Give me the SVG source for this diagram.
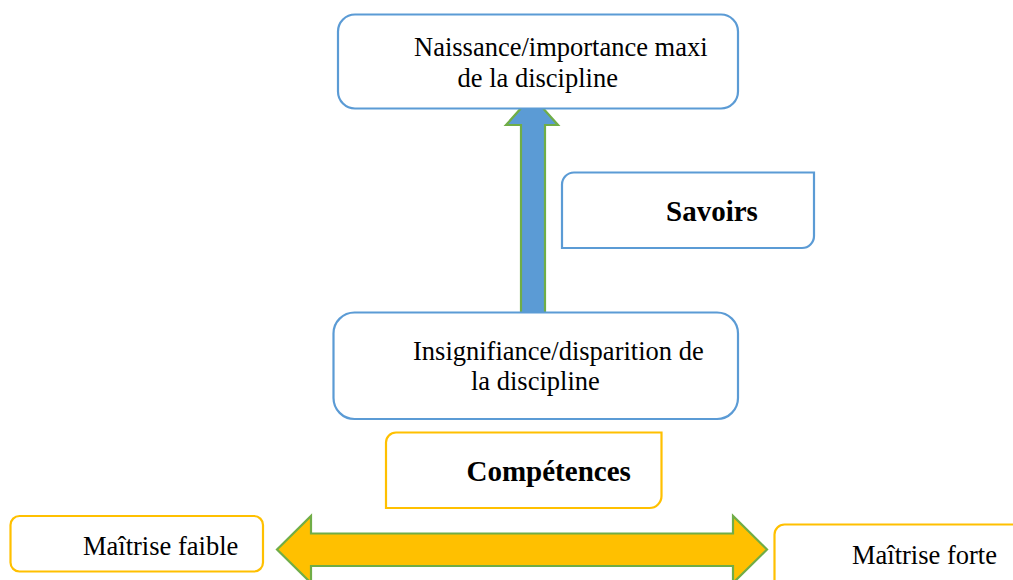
<svg xmlns="http://www.w3.org/2000/svg" width="1013" height="580" viewBox="0 0 1013 580">
<style>
.bg{fill:#ffffff}
.blue{fill:#ffffff;stroke:#5B9BD5;stroke-width:2.2}
.gold{fill:#ffffff;stroke:#FFC000;stroke-width:2.2}
.t{font-family:'Liberation Serif','Times New Roman',Times,serif;font-size:26.5px;fill:#000000}
.b{font-family:'Liberation Serif','Times New Roman',Times,serif;font-size:29px;font-weight:bold;fill:#000000}
.arrowBlue{fill:#5B9BD5;stroke:#70AD47;stroke-width:2.2;stroke-linejoin:miter}
.arrowGold{fill:#FFC000;stroke:#70AD47;stroke-width:2.2;stroke-linejoin:miter}
</style>
<rect class="bg" x="0" y="0" width="1013" height="580"/>
<g id="connectors">
  <polygon class="arrowBlue" points="532,96 558,125 545,125 545,313 521,313 521,125 506,125"/>
  <polygon class="arrowGold" points="277,549.5 311,516 311,533.5 733,533.5 733,516 767,549.5 733,583 733,566 311,566 311,583"/>
</g>
<g id="node-naissance">
  <rect class="blue" x="338" y="14.5" width="400" height="94" rx="17" ry="17"/>
  <text class="t" font-family="Liberation Serif, serif" x="414" y="56">Naissance/importance maxi</text>
  <text class="t" font-family="Liberation Serif, serif" x="457.5" y="87">de la discipline</text>
</g>
<g id="node-savoirs">
  <path class="blue" d="M574,172.5 H814 V236 A12,12 0 0 1 802,248 H562 V184.5 A12,12 0 0 1 574,172.5 Z"/>
  <text class="b" font-family="Liberation Serif, serif" x="666" y="220.5">Savoirs</text>
</g>
<g id="node-insignifiance">
  <rect class="blue" x="333.5" y="312.5" width="404.5" height="106.5" rx="21" ry="21"/>
  <text class="t" font-family="Liberation Serif, serif" x="413" y="360">Insignifiance/disparition de</text>
  <text class="t" font-family="Liberation Serif, serif" x="471" y="390">la discipline</text>
</g>
<g id="node-competences">
  <path class="gold" d="M396,432.5 H661.5 V496 A12,12 0 0 1 649.5,508 H386 V442.5 A10,10 0 0 1 396,432.5 Z"/>
  <text class="b" font-family="Liberation Serif, serif" x="466.5" y="481">Compétences</text>
</g>
<g id="node-faible">
  <rect class="gold" x="10.5" y="516" width="252.5" height="55.5" rx="9" ry="9"/>
  <text class="t" font-family="Liberation Serif, serif" x="83" y="555">Maîtrise faible</text>
</g>
<g id="node-forte">
  <rect class="gold" x="774.5" y="524.5" width="260" height="80" rx="10" ry="10"/>
  <text class="t" font-family="Liberation Serif, serif" x="852" y="564">Maîtrise forte</text>
</g>
</svg>
